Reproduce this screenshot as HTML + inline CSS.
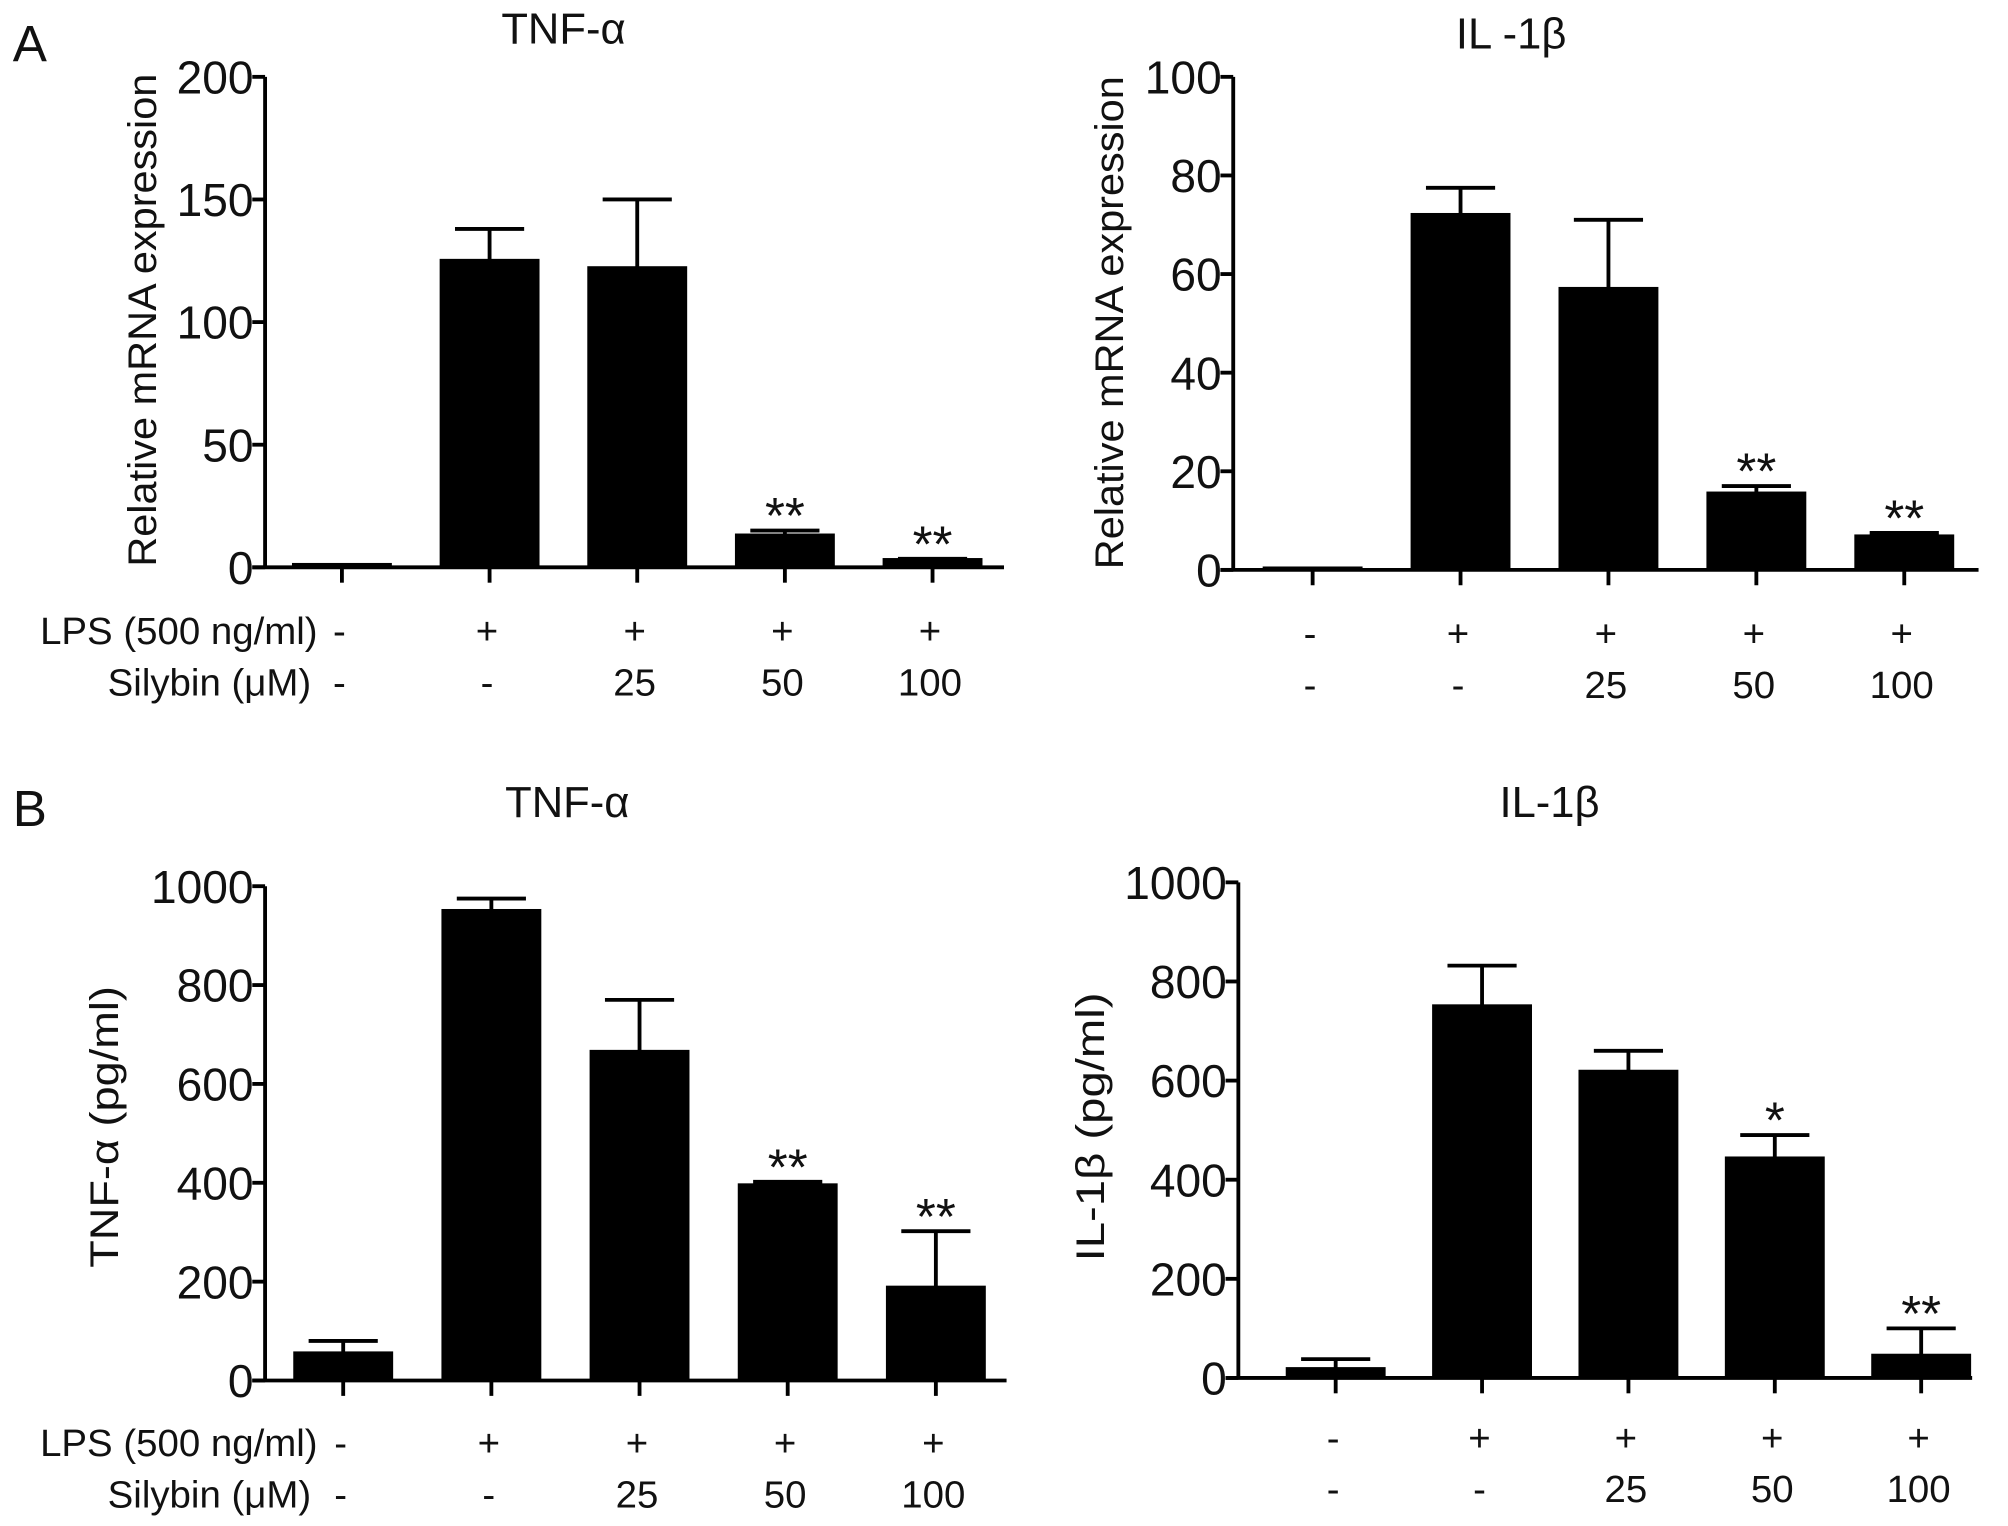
<!DOCTYPE html>
<html><head><meta charset="utf-8"><style>
html,body{margin:0;padding:0;background:#fff}
svg{display:block}
text{font-family:"Liberation Sans",Arial,sans-serif;fill:#111}
</style></head><body>
<svg id="fig" width="2008" height="1526" viewBox="0 0 1568 1191.6" xmlns="http://www.w3.org/2000/svg">
<text x="10" y="48" font-size="40">A</text>
<text x="10" y="645" font-size="40">B</text>
</svg>
<script>
// Data arrays
const categories = ["control","LPS","LPS+25","LPS+50","LPS+100"];
const lpsLabels = ["-","+","+","+","+"];
const silLabels = ["-","-","25","50","100"];
const aTnfValues = [1,125,122,13,3];
const aTnfErr = [1,138,150,15,3.5];
const aTnfStars = ["","","","**","**"];
const aTnfTicks = [0,50,100,150,200];
const aIlValues = [0.3,72,57,15.5,6.8];
const aIlErr = [0.3,77.5,71,17,7.5];
const aIlStars = ["","","","**","**"];
const aIlTicks = [0,20,40,60,80,100];
const bTnfValues = [55,950,665,395,188];
const bTnfErr = [80,975,770,402,302];
const bTnfStars = ["","","","**","**"];
const bTnfTicks = [0,200,400,600,800,1000];
const bIlValues = [18,750,618,443,45];
const bIlErr = [38,832,660,490,100];
const bIlStars = ["","","","*","**"];
const bIlTicks = [0,200,400,600,800,1000];

const NS = "http://www.w3.org/2000/svg";
const svg = document.getElementById("fig");
function mk(tag, attrs, parent){
  const e = document.createElementNS(NS, tag);
  for (const k in attrs) e.setAttribute(k, attrs[k]);
  (parent||svg).appendChild(e);
  return e;
}
function panel(p){
  const g = mk("g", {});
  
  
  const yMax = p.ticks[p.ticks.length-1];
  const yS = v => p.y0 - (v / yMax) * (p.y0 - p.yTop);
  const xS = i => p.x0 + p.first + i * p.step;
  const ya = mk("line", {x1:p.x0, y1:p.yTop, x2:p.x0, y2:p.y0, stroke:"#000","stroke-width":3}, g);
  
  
  const xa = mk("line", {x1:p.x0-10, y1:p.y0, x2:p.xEnd, y2:p.y0, stroke:"#000","stroke-width":3}, g);
  
  
  p.ticks.forEach(t => {
    mk("line", {x1:p.x0-10, y1:yS(t), x2:p.x0, y2:yS(t), stroke:"#000","stroke-width":3}, g);
    const tl = mk("text", {x:p.x0-9, y:yS(t)+13, "font-size":36, "text-anchor":"end"}, g);
    tl.textContent = t;
    
    
  });
  p.values.forEach((v, i) => {
    const cx = xS(i);
    mk("line", {x1:cx, y1:p.y0, x2:cx, y2:p.y0+12, stroke:"#000","stroke-width":3}, g);
    const top = yS(p.err[i]);
    if (p.err[i] > v) {
      mk("line", {x1:cx, y1:top, x2:cx, y2:yS(v), stroke:"#000","stroke-width":3}, g);
      mk("line", {x1:cx-27, y1:top, x2:cx+27, y2:top, stroke:"#000","stroke-width":3}, g);
    }
    const b = mk("rect", {x:cx-39, y:yS(v)-1.5, width:78, height:Math.max(p.y0-yS(v),1.5)+1.5, fill:"#000"}, g);
    
    
    if (p.stars[i]) {
      const s = mk("text", {x:cx, y:top+2, "font-size":40, "text-anchor":"middle", fill:"#333"}, g);
      s.textContent = p.stars[i];
      
      
    }
    const l1 = mk("text", {x:cx-2, y:p.lblY, "font-size":30, "text-anchor":"middle"}, g);
    l1.textContent = lpsLabels[i];
    
    
    const l2 = mk("text", {x:cx-2, y:p.lblY+40, "font-size":30, "text-anchor":"middle"}, g);
    l2.textContent = silLabels[i];
    
    
  });
  const tt = mk("text", {x:p.titleX, y:p.titleY, "font-size":34, "text-anchor":"middle"}, g);
  tt.textContent = p.title;
  
  
  const yt = mk("text", {x:0, y:0, "font-size":31, "text-anchor":"middle", transform:`translate(${p.ytX},${p.ytY}) rotate(-90)`, textLength:p.ytLen, lengthAdjust:"spacingAndGlyphs"}, g);
  yt.textContent = p.ytitle;
  
  
  if (p.rowLabels) {
    const r1 = mk("text", {x:248, y:p.lblY, "font-size":30, "text-anchor":"end"}, g);
    r1.textContent = "LPS (500 ng/ml)";
    
    
    const r2 = mk("text", {x:243, y:p.lblY+40, "font-size":30, "text-anchor":"end"}, g);
    r2.textContent = "Silybin (\u03bcM)";
    
    
  }
}
panel({name:"panel-a-tnf", x0:207, y0:443, yTop:60, xEnd:784, first:60, step:115.3, ticks:aTnfTicks, values:aTnfValues, err:aTnfErr, stars:aTnfStars, lblY:503, title:"TNF-\u03b1", titleX:440, titleY:34, ytitle:"Relative mRNA expression", ytX:122, ytY:250, ytLen:385, rowLabels:true});
panel({name:"panel-a-il1b", x0:963, y0:445, yTop:60, xEnd:1545, first:62, step:115.5, ticks:aIlTicks, values:aIlValues, err:aIlErr, stars:aIlStars, lblY:505, title:"IL -1\u03b2", titleX:1180, titleY:38, ytitle:"Relative mRNA expression", ytX:877, ytY:252, ytLen:385, rowLabels:false});
panel({name:"panel-b-tnf", x0:207, y0:1078, yTop:692, xEnd:786, first:61, step:115.7, ticks:bTnfTicks, values:bTnfValues, err:bTnfErr, stars:bTnfStars, lblY:1137, title:"TNF-\u03b1", titleX:443, titleY:638, ytitle:"TNF-\u03b1  (pg/ml)", ytX:92, ytY:880, ytLen:220, rowLabels:true});
panel({name:"panel-b-il1b", x0:967, y0:1076, yTop:689, xEnd:1540, first:76, step:114.3, ticks:bIlTicks, values:bIlValues, err:bIlErr, stars:bIlStars, lblY:1133, title:"IL-1\u03b2", titleX:1210, titleY:638, ytitle:"IL-1\u03b2 (pg/ml)", ytX:862, ytY:880, ytLen:210, rowLabels:false});
</script>
</body></html>
